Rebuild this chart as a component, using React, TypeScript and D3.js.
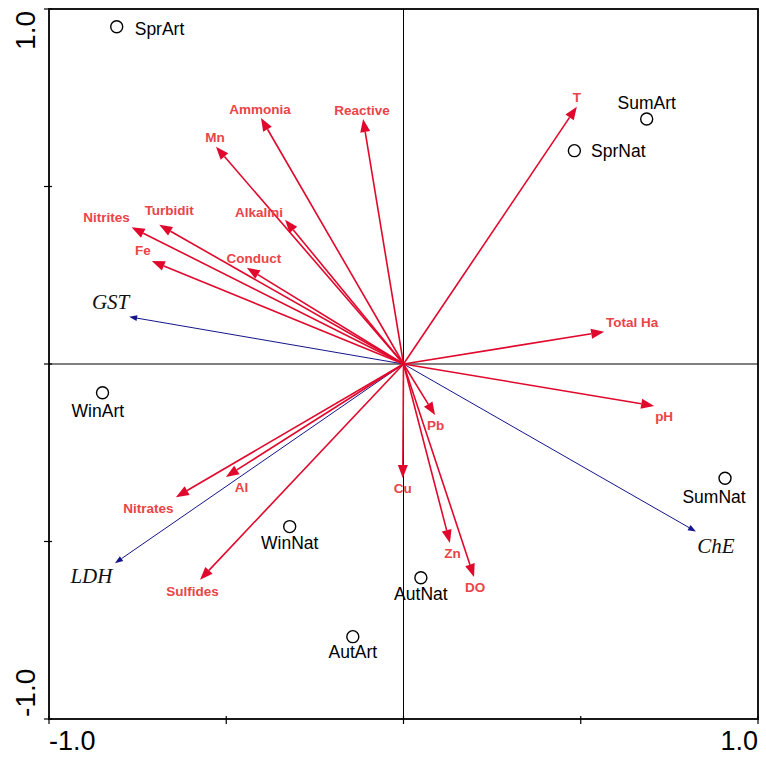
import React from 'react';
import * as d3 from 'd3';

// biplot values (axis units, -1..1)
const envNames = ['T', 'Ammonia', 'Reactive', 'Mn', 'Alkalini', 'Nitrites', 'Turbidit', 'Fe', 'Conduct',
  'Total Ha', 'pH', 'Pb', 'Cu', 'Zn', 'DO', 'Al', 'Nitrates', 'Sulfides'];
const envX = [0.489, -0.402, -0.114, -0.529, -0.334, -0.767, -0.689, -0.710, -0.442,
  0.566, 0.707, 0.089, -0.002, 0.131, 0.199, -0.501, -0.642, -0.574];
const envY = [0.725, 0.693, 0.690, 0.612, 0.406, 0.385, 0.392, 0.290, 0.271,
  0.091, -0.118, -0.144, -0.321, -0.504, -0.600, -0.318, -0.375, -0.608];

const bioNames = ['GST', 'LDH', 'ChE'];
const bioX = [-0.774, -0.814, 0.825];
const bioY = [0.133, -0.561, -0.472];

const siteNames = ['SprArt', 'SumArt', 'SprNat', 'WinArt', 'SumNat', 'WinNat', 'AutNat', 'AutArt'];
const siteX = [-0.809, 0.686, 0.482, -0.849, 0.907, -0.321, 0.049, -0.143];
const siteY = [0.950, 0.690, 0.601, -0.081, -0.322, -0.458, -0.602, -0.768];

const tickValues = [-1, -0.5, 0, 0.5, 1];
const tickLabels = ['-1.0', '', '', '', '1.0'];

// label placement (pixel offsets from arrow tip / point)
const envLabelOffset: Record<string, [number, number]> = {
  T: [0, -5], Ammonia: [-1, -4], Reactive: [-1, -4], Mn: [-1, -5], Alkalini: [-26, -3],
  Nitrites: [-25, -5.5], Turbidit: [10, -10], Fe: [-9, -6.5], Conduct: [7, -5],
  'Total Ha': [28, -5], pH: [10, 15.5], Pb: [0.5, 15], Cu: [0, 15.3], Zn: [2.5, 14.7],
  DO: [1, 14.7], Al: [15.5, 14.7], Nitrates: [-27.5, 16.3], Sulfides: [-7.5, 15.7],
};
const bioLabelOffset: Record<string, [number, number]> = {
  GST: [-18.5, -7.7], LDH: [-23.5, 20], ChE: [20, 21.3],
};
const siteLabelPos: Record<string, { dx: number; dy: number; anchor: string }> = {
  SprArt: { dx: 18, dy: 8.3, anchor: 'start' },
  SumArt: { dx: 0, dy: -9.7, anchor: 'middle' },
  SprNat: { dx: 16.7, dy: 6.6, anchor: 'start' },
  WinArt: { dx: -4.7, dy: 24, anchor: 'middle' },
  SumNat: { dx: -11, dy: 25, anchor: 'middle' },
  WinNat: { dx: 0, dy: 22.6, anchor: 'middle' },
  AutNat: { dx: 0, dy: 22.3, anchor: 'middle' },
  AutArt: { dx: 0, dy: 21.6, anchor: 'middle' },
};

const W = 766;
const H = 757;
const margin = { left: 49, right: 8, top: 9, bottom: 38 };

const RED = '#e0082c';
const RED_TEXT = '#ea4448';
const NAVY = '#14148c';

function arrow(x0: number, y0: number, x1: number, y1: number, len: number, half: number) {
  const dx = x1 - x0;
  const dy = y1 - y0;
  const d = Math.sqrt(dx * dx + dy * dy);
  const ux = dx / d;
  const uy = dy / d;
  const bx = x1 - ux * len;
  const by = y1 - uy * len;
  const head = `M${x1},${y1}L${bx - uy * half},${by + ux * half}L${bx + uy * half},${by - ux * half}Z`;
  return { bx, by, head };
}

export default function App() {
  const x = d3.scaleLinear().domain([-1, 1]).range([margin.left, W - margin.right]);
  const y = d3.scaleLinear().domain([-1, 1]).range([H - margin.bottom, margin.top]);
  const ox = x(0);
  const oy = y(0);
  const x0 = x(-1), x1 = x(1), y0 = y(-1), y1 = y(1);

  return (
    <svg width={W} height={H} style={{ position: 'absolute', left: 0, top: 0, background: '#fff' }}
      fontFamily="Liberation Sans, Arial, sans-serif">
      {/* center lines */}
      <line x1={x0} x2={x1} y1={oy} y2={oy} stroke="#000" strokeWidth={1} />
      <line x1={ox} x2={ox} y1={y1} y2={y0} stroke="#000" strokeWidth={1} />

      {/* frame */}
      <rect x={x0} y={y1} width={x1 - x0} height={y0 - y1} fill="none" stroke="#000" strokeWidth={1.8} />

      {/* ticks */}
      {tickValues.map((v, i) => (
        <g key={'t' + i}>
          <line x1={x(v)} x2={x(v)} y1={y0 - 3} y2={y0 + 5} stroke="#000" strokeWidth={1.2} />
          <line x1={x0 - 5} x2={x0 + 3} y1={y(v)} y2={y(v)} stroke="#000" strokeWidth={1.2} />
        </g>
      ))}
      <text x={x0} y={750} fontSize={27} textAnchor="start">{tickLabels[0]}</text>
      <text x={x1} y={750} fontSize={27} textAnchor="end">{tickLabels[4]}</text>
      <text transform={`translate(35,${y1 + 2}) rotate(-90)`} fontSize={28} textAnchor="end">{tickLabels[4]}</text>
      <text transform={`translate(35,${y0 - 2}) rotate(-90)`} fontSize={28} textAnchor="start">{tickLabels[0]}</text>

      {/* biological arrows */}
      {bioNames.map((n, i) => {
        const tx = x(bioX[i]);
        const ty = y(bioY[i]);
        const a = arrow(ox, oy, tx, ty, 8, 3);
        const off = bioLabelOffset[n];
        return (
          <g key={n}>
            <line x1={ox} y1={oy} x2={a.bx} y2={a.by} stroke={NAVY} strokeWidth={1} />
            <path d={a.head} fill={NAVY} />
            <text x={tx + off[0]} y={ty + off[1]} textAnchor="middle" fontFamily="Liberation Serif, Times New Roman, serif"
              fontStyle="italic" fontSize={21} fill="#111">{n}</text>
          </g>
        );
      })}

      {/* environmental arrows */}
      {envNames.map((n, i) => {
        const tx = x(envX[i]);
        const ty = y(envY[i]);
        const a = arrow(ox, oy, tx, ty, 13, 5);
        return (
          <g key={n}>
            <line x1={ox} y1={oy} x2={a.bx} y2={a.by} stroke={RED} strokeWidth={1.6} />
            <path d={a.head} fill={RED} />
          </g>
        );
      })}
      {envNames.map((n, i) => {
        const off = envLabelOffset[n];
        return (
          <text key={'l' + n} x={x(envX[i]) + off[0]} y={y(envY[i]) + off[1]} textAnchor="middle"
            fontSize={13.5} fontWeight="bold" fill={RED_TEXT}>{n}</text>
        );
      })}

      {/* sites */}
      {siteNames.map((n, i) => {
        const cx = x(siteX[i]);
        const cy = y(siteY[i]);
        const p = siteLabelPos[n];
        return (
          <g key={n}>
            <circle cx={cx} cy={cy} r={6} fill="#fff" stroke="#000" strokeWidth={1.4} />
            <text x={cx + p.dx} y={cy + p.dy} textAnchor={p.anchor} fontSize={17.5} fill="#000">{n}</text>
          </g>
        );
      })}
    </svg>
  );
}
